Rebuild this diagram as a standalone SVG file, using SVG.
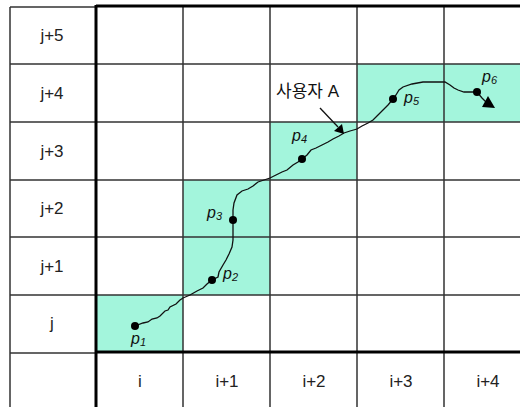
<svg xmlns="http://www.w3.org/2000/svg" width="520" height="407" viewBox="0 0 520 407">
<style>
.thin{stroke:#333;stroke-width:1.5;fill:none}
.thick{stroke:#000;stroke-width:3;fill:none}
.cell{fill:#a3f5dc}
.lab{font-family:"Liberation Sans",Arial,sans-serif;font-size:17px;fill:#222;text-anchor:middle}
.p{font-family:"Liberation Sans",Arial,sans-serif;font-size:16px;font-style:italic;fill:#111}
.sub{font-size:11px}
.kr{font-family:"Liberation Sans","Noto Sans CJK KR",sans-serif;font-size:17px;fill:#111}
</style>
<rect width="520" height="407" fill="#fff"/>
<g id="cells">
<rect class="cell" x="96" y="295" width="87" height="57"/>
<rect class="cell" x="183" y="180" width="87" height="115"/>
<rect class="cell" x="270" y="122" width="87" height="58"/>
<rect class="cell" x="357" y="64" width="163" height="58"/>
</g>
<g id="grid">
<path class="thin" d="M10 7V410 M10 7H96 M183 6V410 M270 6V410 M357 6V410 M444 6V410 M10 64H520 M10 122H520 M10 180H520 M10 237H520 M10 295H520 M10 353H96"/>
<path class="thick" d="M96 6H520 M96 5V410 M96 352H520"/>
</g>
<g id="row-labels" class="lab">
<text x="52" y="41">j+5</text>
<text x="52" y="99">j+4</text>
<text x="52" y="157">j+3</text>
<text x="52" y="214">j+2</text>
<text x="52" y="272">j+1</text>
<text x="52" y="329">j</text>
</g>
<g id="col-labels" class="lab">
<text x="140" y="387">i</text>
<text x="227" y="387">i+1</text>
<text x="314" y="387">i+2</text>
<text x="401" y="387">i+3</text>
<text x="488" y="387">i+4</text>
</g>
<g id="connectors">
<path d="M135 326 L143 323 L148 322 L152 319 L157 318 L160 316 L165 311 L168 310 L170 307 L176 304 L180 300 L183 298 L190 295 L197 291 L203 288 L207 284 L212 280 L218 277 L219 272 L223 265 L226 260 L229 254 L232 247 L233 240 L233 230 L233 220 L233 210 L234 203 L237 195 L242 191 L248 189 L253 186 L258 182 L264 180 L270 178 L276 175 L282 172 L287 170 L293 165 L298 162 L302 159 L307 155 L311 150 L316 148 L322 145 L328 142 L333 139 L339 136 L344 133 L350 131 L357 129 L362 126 L368 123 L373 120 L378 115 L383 110 L388 105 L393 99 L396 95 L399 90 L403 87 L412 84 L423 82 L435 82 L445 82 L450 85 L454 88 L458 90 L464 92 L470 92 L477 92 L482 98 L487 103" fill="none" stroke="#111" stroke-width="1.3"/>
<polygon points="482,107 495,108 488,96" fill="#000"/>
<line x1="320" y1="108" x2="338" y2="127" stroke="#111" stroke-width="1.3"/>
<polygon points="344,134 334,131 342,124" fill="#000"/>
</g>
<g id="points" fill="#000">
<circle cx="135" cy="326" r="4"/>
<circle cx="212" cy="280" r="4"/>
<circle cx="233" cy="220" r="4"/>
<circle cx="302" cy="159" r="4"/>
<circle cx="393" cy="99" r="4"/>
<circle cx="477" cy="92" r="4"/>
</g>
<g id="point-labels" class="p">
<text x="131" y="344">p<tspan class="sub" dy="2">1</tspan></text>
<text x="223" y="279">p<tspan class="sub" dy="2">2</tspan></text>
<text x="207" y="218">p<tspan class="sub" dy="2">3</tspan></text>
<text x="292" y="141">p<tspan class="sub" dy="2">4</tspan></text>
<text x="404" y="103">p<tspan class="sub" dy="2">5</tspan></text>
<text x="482" y="82">p<tspan class="sub" dy="2">6</tspan></text>
</g>
<g id="user-label">
<text class="kr" x="276" y="97">사용자 A</text>
</g>
</svg>
